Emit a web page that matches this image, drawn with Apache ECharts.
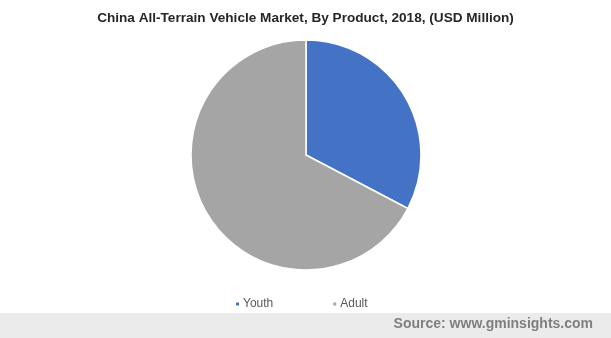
<!DOCTYPE html>
<html><head><meta charset="utf-8">
<script src="https://cdn.jsdelivr.net/npm/echarts@6/dist/echarts.min.js"></script>
<style>html,body{margin:0;padding:0;background:#fff}#c{width:611px;height:338px}</style>
</head><body><div id="c"></div>
<script>
const categories = ["Youth", "Adult"];
const values = [32.7, 67.3];
const colors = ["#4472C4", "#A5A5A5"];
const chart = echarts.init(document.getElementById('c'), null, {renderer: 'canvas'});
chart.setOption({
  animation: false,
  title: {
    text: 'China All-Terrain Vehicle Market, By Product, 2018, (USD Million)',
    left: 'center', top: 6,
    textStyle: {fontFamily: 'Liberation Sans, Arial', fontSize: 13.6, fontWeight: 'bold', color: '#262626'}
  },
  legend: {
    data: categories, top: 293, left: 229,
    icon: 'rect', itemWidth: 5, itemHeight: 5, itemGap: 58,
    textStyle: {fontFamily: 'Liberation Sans, Arial', fontSize: 12, color: '#595959', padding: [0,0,0,-2]}
  },
  graphic: [
    {type: 'rect', left: 0, top: 313, shape: {width: 611, height: 25}, style: {fill: '#EBEBEB'}},
    {type: 'text', right: 18, top: 317, style: {text: 'Source: www.gminsights.com', fill: '#7F7F7F', font: 'bold 14px Liberation Sans, Arial'}}
  ],
  series: [{
    type: 'pie', center: [306, 155], radius: 115, startAngle: 90, clockwise: true,
    label: {show: false}, labelLine: {show: false},
    itemStyle: {borderColor: '#fff', borderWidth: 1.5},
    data: categories.map((c, i) => ({name: c, value: values[i], itemStyle: {color: colors[i]}}))
  }]
});
</script></body></html>
